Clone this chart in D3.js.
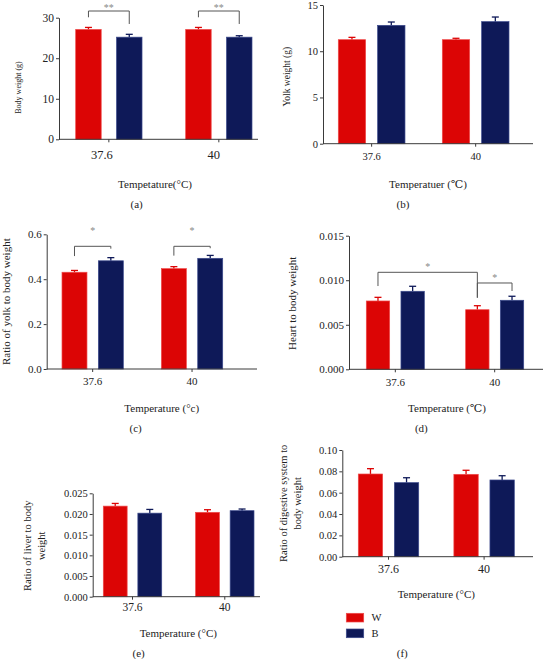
<!DOCTYPE html>
<html>
<head>
<meta charset="utf-8">
<script src="https://cdn.jsdelivr.net/npm/d3@7"></script>
<style>
  html, body { margin: 0; padding: 0; background: #fff; }
  svg text { font-family: "Liberation Serif", "DejaVu Serif", serif; fill: #222; }
</style>
</head>
<body>
<svg id="chart" width="546" height="659"></svg>
<script>
// ---------- DATA ----------
const categories = ["37.6", "40"];
const series = ["W", "B"];

// (a) Body weight (g)
const bodyW = [27.1, 27.1];
const bodyWErr = [0.5, 0.5];
const bodyB = [25.2, 25.2];
const bodyBErr = [0.7, 0.35];
const bodyTicks = [0, 10, 20, 30];

// (b) Yolk weight (g)
const yolkW = [11.25, 11.25];
const yolkWErr = [0.25, 0.15];
const yolkB = [12.8, 13.2];
const yolkBErr = [0.36, 0.5];
const yolkTicks = [0, 5, 10, 15];

// (c) Ratio of yolk to body weight
const yolkRatioW = [0.431, 0.447];
const yolkRatioWErr = [0.008, 0.009];
const yolkRatioB = [0.482, 0.493];
const yolkRatioBErr = [0.014, 0.013];
const yolkRatioTicks = [0.0, 0.2, 0.4, 0.6];

// (d) Heart to body weight
const heartW = [0.00767, 0.00669];
const heartWErr = [0.00041, 0.00045];
const heartB = [0.00876, 0.00775];
const heartBErr = [0.00056, 0.00045];
const heartTicks = [0.000, 0.005, 0.010, 0.015];

// (e) Ratio of liver to body weight
const liverW = [0.0219, 0.0204];
const liverWErr = [0.00065, 0.00063];
const liverB = [0.0202, 0.0208];
const liverBErr = [0.0009, 0.0004];
const liverTicks = [0.000, 0.005, 0.010, 0.015, 0.020, 0.025];

// (f) Ratio of digestive system to body weight
const digestW = [0.0775, 0.0772];
const digestWErr = [0.005, 0.0038];
const digestB = [0.0694, 0.0719];
const digestBErr = [0.0046, 0.004];
const digestTicks = [0.00, 0.02, 0.04, 0.06, 0.08, 0.10];

// significance brackets (data units)
const bracketsA = [
  { from: ["37.6", "W"], to: ["37.6", "B"], y: 31.65, leg1: 30.1, leg2: 28.45, ly: 33.0, label: "**" },
  { from: ["40", "W"], to: ["40", "B"], y: 31.65, leg1: 30.1, leg2: 28.45, ly: 33.0, label: "**" }
];
const bracketsC = [
  { from: ["37.6", "W"], to: ["37.6", "B"], y: 0.5465, leg1: 0.503, leg2: 0.536, ly: 0.622, label: "*" },
  { from: ["40", "W"], to: ["40", "B"], y: 0.5465, leg1: 0.505, leg2: 0.538, ly: 0.622, label: "*" }
];
const bracketsD = [
  { from: ["37.6", "W"], to: ["40", "W"], y: 0.01089, leg1: 0.00935, leg2: 0.00804, ly: 0.01171, label: "*" },
  { from: ["40", "W"], to: ["40", "B"], y: 0.00969, leg1: 0.00804, leg2: 0.00879, ly: 0.01048, label: "*" }
];

// ---------- STYLE ----------
const colors = { W: "#dc0505", B: "#0e1958" };
const strokeColors = { W: "#ef4a4a", B: "#3c4a8c" };
const axisColor = "#3a3a3a";

const svg = d3.select("#chart");

function drawPanel(cfg) {
  const g = svg.append("g");
  const y = d3.scaleLinear().domain([0, cfg.max]).range([cfg.y0, cfg.y1]);
  const x = d3.scaleBand().domain(categories).range([cfg.g0, cfg.g1]).paddingInner(cfg.pi).paddingOuter(0);
  const xs = d3.scaleBand().domain(series).range([0, x.bandwidth()]).paddingInner(cfg.si).paddingOuter(0);

  const rows = [];
  categories.forEach((c, i) => {
    series.forEach(s => {
      rows.push({ cat: c, ser: s, v: cfg.values[s][i], e: cfg.errors[s][i] });
    });
  });

  // error bars (upper only)
  const capW = 7;
  const eg = g.append("g");
  rows.forEach(d => {
    const cx = x(d.cat) + xs(d.ser) + xs.bandwidth() / 2;
    eg.append("line").attr("x1", cx).attr("x2", cx)
      .attr("y1", y(d.v)).attr("y2", y(d.v + d.e))
      .attr("stroke", colors[d.ser]).attr("stroke-width", 1.3);
    eg.append("line").attr("x1", cx - capW / 2).attr("x2", cx + capW / 2)
      .attr("y1", y(d.v + d.e)).attr("y2", y(d.v + d.e))
      .attr("stroke", colors[d.ser]).attr("stroke-width", 1.3);
  });

  // bars
  g.append("g").selectAll("rect").data(rows).join("rect")
    .attr("x", d => x(d.cat) + xs(d.ser))
    .attr("y", d => y(d.v))
    .attr("width", xs.bandwidth())
    .attr("height", d => y(0) - y(d.v))
    .attr("fill", d => colors[d.ser])
    .attr("stroke", d => strokeColors[d.ser])
    .attr("stroke-width", 0.7);

  // y axis
  const ya = g.append("g").attr("transform", `translate(${cfg.x0},0)`)
    .call(d3.axisLeft(y).tickValues(cfg.ticks).tickFormat(d3.format(cfg.fmt)).tickSize(3).tickSizeOuter(0).tickPadding(2));
  ya.select(".domain").attr("stroke", axisColor);
  ya.selectAll(".tick line").attr("stroke", axisColor);
  ya.selectAll(".tick text").attr("font-family", "Liberation Serif, serif").attr("font-size", cfg.yTickFont).attr("fill", "#222");

  // x axis line
  g.append("line").attr("x1", cfg.x0).attr("x2", cfg.xEnd).attr("y1", cfg.y0).attr("y2", cfg.y0)
    .attr("stroke", axisColor).attr("stroke-width", 1);
  const xa = g.append("g").attr("transform", `translate(0,${cfg.y0})`)
    .call(d3.axisBottom(x).tickSize(3).tickFormat(""));
  xa.select(".domain").remove();
  xa.selectAll(".tick line").attr("stroke", axisColor);
  categories.forEach((c, i) => {
    g.append("text")
      .attr("x", x(c) + x.bandwidth() / 2 + cfg.xLabDx[i])
      .attr("y", cfg.y0 + cfg.xLabOff)
      .attr("dy", "0.35em")
      .attr("text-anchor", "middle")
      .attr("font-size", cfg.xTickFont)
      .text(c);
  });

  // axis titles
  g.append("text").attr("x", cfg.xTitle[0]).attr("y", cfg.xTitle[1]).attr("dy", "0.35em")
    .attr("text-anchor", "middle").attr("font-size", 11).text(cfg.xTitleText);
  cfg.yTitleLines.forEach((t, i) => {
    g.append("text")
      .attr("transform", `translate(${cfg.yTitleX[i]},${cfg.yTitleY}) rotate(-90)`)
      .attr("dy", "0.35em").attr("text-anchor", "middle")
      .attr("font-size", cfg.yTitleFont).text(t);
  });
  g.append("text").attr("x", cfg.tag[0]).attr("y", cfg.tag[1]).attr("dy", "0.35em")
    .attr("text-anchor", "middle").attr("font-size", 11).text(cfg.tagText);

  // brackets
  (cfg.brackets || []).forEach(b => {
    const bx1 = x(b.from[0]) + xs(b.from[1]) + xs.bandwidth() / 2;
    const bx2 = x(b.to[0]) + xs(b.to[1]) + xs.bandwidth() / 2;
    const path = d3.path();
    path.moveTo(bx1, y(b.leg1));
    path.lineTo(bx1, y(b.y));
    path.lineTo(bx2, y(b.y));
    path.lineTo(bx2, y(b.leg2));
    g.append("path").attr("d", path.toString()).attr("fill", "none")
      .attr("stroke", "#555").attr("stroke-width", 1);
    g.append("text").attr("x", (bx1 + bx2) / 2).attr("y", y(b.ly) + 5)
      .attr("text-anchor", "middle").attr("font-size", 10)
      .style("fill", "#888").text(b.label);
  });
}

const panels = [
  { tagText: "(a)", max: 30, ticks: bodyTicks, fmt: "d",
    values: { W: bodyW, B: bodyB }, errors: { W: bodyWErr, B: bodyBErr },
    x0: 59, xEnd: 258, y0: 139.3, y1: 17.7, g0: 75.7, g1: 252, pi: 0.397, si: 0.375,
    yTickFont: 11.5, xTickFont: 12.5, xLabOff: 15.7, xLabDx: [-7, -5],
    xTitleText: "Tempetature(°C)", xTitle: [155, 184.3],
    yTitleLines: ["Body weight (g)"], yTitleX: [17.8], yTitleY: 87.5, yTitleFont: 8,
    tag: [136.7, 204], brackets: bracketsA },
  { tagText: "(b)", max: 15, ticks: yolkTicks, fmt: "d",
    values: { W: yolkW, B: yolkB }, errors: { W: yolkWErr, B: yolkBErr },
    x0: 323, xEnd: 533, y0: 143.7, y1: 5, g0: 338.3, g1: 509, pi: 0.359, si: 0.305,
    yTickFont: 10.5, xTickFont: 10.5, xLabOff: 13, xLabDx: [0, 0],
    xTitleText: "Temperatuer (℃)", xTitle: [428, 184.3],
    yTitleLines: ["Yolk weight (g)"], yTitleX: [286.3], yTitleY: 76.7, yTitleFont: 9.5,
    tag: [403, 204], brackets: [] },
  { tagText: "(c)", max: 0.6, ticks: yolkRatioTicks, fmt: ".1f",
    values: { W: yolkRatioW, B: yolkRatioB }, errors: { W: yolkRatioWErr, B: yolkRatioBErr },
    x0: 46.7, xEnd: 257, y0: 369, y1: 234.3, g0: 62, g1: 222.7, pi: 0.383, si: 0.313,
    yTickFont: 11, xTickFont: 11, xLabOff: 11.7, xLabDx: [0, 0],
    xTitleText: "Temperature (°c)", xTitle: [161.7, 407.7],
    yTitleLines: ["Ratio of yolk to body weight"], yTitleX: [6], yTitleY: 301.7, yTitleFont: 11,
    tag: [135.7, 428.3], brackets: bracketsC },
  { tagText: "(d)", max: 0.015, ticks: heartTicks, fmt: ".3f",
    values: { W: heartW, B: heartB }, errors: { W: heartWErr, B: heartBErr },
    x0: 349, xEnd: 543, y0: 369.3, y1: 235.7, g0: 366.3, g1: 523.7, pi: 0.416, si: 0.326,
    yTickFont: 11, xTickFont: 11, xLabOff: 12.4, xLabDx: [0, 0],
    xTitleText: "Temperature (℃)", xTitle: [447, 407.7],
    yTitleLines: ["Heart to body weight"], yTitleX: [292.5], yTitleY: 303.3, yTitleFont: 11,
    tag: [421.3, 428.3], brackets: bracketsD },
  { tagText: "(e)", max: 0.025, ticks: liverTicks, fmt: ".3f",
    values: { W: liverW, B: liverB }, errors: { W: liverWErr, B: liverBErr },
    x0: 92.7, xEnd: 260, y0: 596.7, y1: 493.3, g0: 103.3, g1: 254, pi: 0.367, si: 0.31,
    yTickFont: 10.5, xTickFont: 11.5, xLabOff: 10, xLabDx: [0, 0],
    xTitleText: "Temperature (°C)", xTitle: [178.3, 632.7],
    yTitleLines: ["Ratio of liver to body", "weight"], yTitleX: [27, 41.7], yTitleY: 545.8, yTitleFont: 10.5,
    tag: [138.7, 653.3], brackets: [] },
  { tagText: "(f)", max: 0.10, ticks: digestTicks, fmt: ".2f",
    values: { W: digestW, B: digestB }, errors: { W: digestWErr, B: digestBErr },
    x0: 342.3, xEnd: 533, y0: 556.7, y1: 450, g0: 358.3, g1: 514.3, pi: 0.368, si: 0.325,
    yTickFont: 10.5, xTickFont: 12, xLabOff: 11.6, xLabDx: [0, 0],
    xTitleText: "Temperature (°C)", xTitle: [436.3, 594.3],
    yTitleLines: ["Ratio of digestive system to", "body weight"], yTitleX: [283, 297], yTitleY: 503.3, yTitleFont: 10.5,
    tag: [402.3, 653.3], brackets: [] }
];

panels.forEach(drawPanel);

// legend
const legend = svg.append("g");
series.forEach((s, i) => {
  const ly = 613.3 + i * 15.7;
  legend.append("rect").attr("x", 346.3).attr("y", ly).attr("width", 17.4).attr("height", 8.7)
    .attr("fill", colors[s]).attr("stroke", strokeColors[s]).attr("stroke-width", 0.7);
  legend.append("text").attr("x", 371.5).attr("y", ly + 4.35).attr("dy", "0.35em")
    .attr("font-size", 10.5).text(s);
});
</script>
</body>
</html>
